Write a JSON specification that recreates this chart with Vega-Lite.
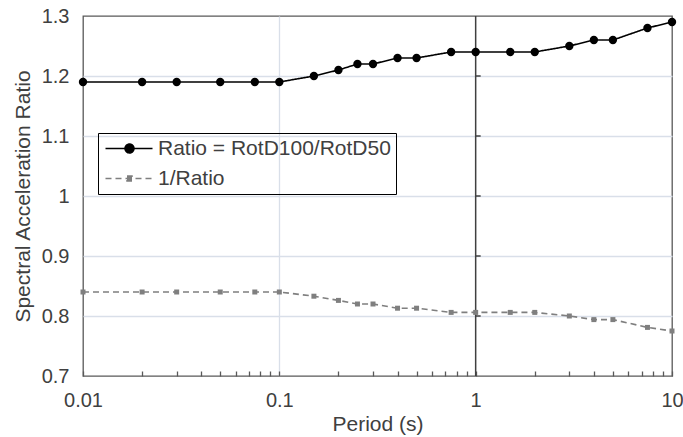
{
  "$schema": "https://vega.github.io/schema/vega-lite/v6.json",
  "width": 589,
  "height": 360,
  "autosize": {"type": "none"},
  "padding": {"left": 83, "top": 16, "right": 11, "bottom": 61},
  "background": "white",
  "config": {
    "font": "Liberation Sans",
    "view": {"stroke": "#595959", "strokeWidth": 1.3},
    "axis": {"labelFont": "Liberation Sans", "titleFont": "Liberation Sans", "labelColor": "#404040", "titleColor": "#404040", "labelFontSize": 20, "titleFontSize": 21, "titleFontWeight": "normal"}
  },
  "datasets": {
    "main": [
      {"Period": 0.01, "Ratio": 1.19, "Series": "Ratio = RotD100/RotD50"},
      {"Period": 0.02, "Ratio": 1.19, "Series": "Ratio = RotD100/RotD50"},
      {"Period": 0.03, "Ratio": 1.19, "Series": "Ratio = RotD100/RotD50"},
      {"Period": 0.05, "Ratio": 1.19, "Series": "Ratio = RotD100/RotD50"},
      {"Period": 0.075, "Ratio": 1.19, "Series": "Ratio = RotD100/RotD50"},
      {"Period": 0.1, "Ratio": 1.19, "Series": "Ratio = RotD100/RotD50"},
      {"Period": 0.15, "Ratio": 1.2, "Series": "Ratio = RotD100/RotD50"},
      {"Period": 0.2, "Ratio": 1.21, "Series": "Ratio = RotD100/RotD50"},
      {"Period": 0.25, "Ratio": 1.22, "Series": "Ratio = RotD100/RotD50"},
      {"Period": 0.3, "Ratio": 1.22, "Series": "Ratio = RotD100/RotD50"},
      {"Period": 0.4, "Ratio": 1.23, "Series": "Ratio = RotD100/RotD50"},
      {"Period": 0.5, "Ratio": 1.23, "Series": "Ratio = RotD100/RotD50"},
      {"Period": 0.75, "Ratio": 1.24, "Series": "Ratio = RotD100/RotD50"},
      {"Period": 1, "Ratio": 1.24, "Series": "Ratio = RotD100/RotD50"},
      {"Period": 1.5, "Ratio": 1.24, "Series": "Ratio = RotD100/RotD50"},
      {"Period": 2, "Ratio": 1.24, "Series": "Ratio = RotD100/RotD50"},
      {"Period": 3, "Ratio": 1.25, "Series": "Ratio = RotD100/RotD50"},
      {"Period": 4, "Ratio": 1.26, "Series": "Ratio = RotD100/RotD50"},
      {"Period": 5, "Ratio": 1.26, "Series": "Ratio = RotD100/RotD50"},
      {"Period": 7.5, "Ratio": 1.28, "Series": "Ratio = RotD100/RotD50"},
      {"Period": 10, "Ratio": 1.29, "Series": "Ratio = RotD100/RotD50"},
      {"Period": 0.01, "Ratio": 0.84, "Series": "1/Ratio"},
      {"Period": 0.02, "Ratio": 0.84, "Series": "1/Ratio"},
      {"Period": 0.03, "Ratio": 0.84, "Series": "1/Ratio"},
      {"Period": 0.05, "Ratio": 0.84, "Series": "1/Ratio"},
      {"Period": 0.075, "Ratio": 0.84, "Series": "1/Ratio"},
      {"Period": 0.1, "Ratio": 0.84, "Series": "1/Ratio"},
      {"Period": 0.15, "Ratio": 0.833, "Series": "1/Ratio"},
      {"Period": 0.2, "Ratio": 0.826, "Series": "1/Ratio"},
      {"Period": 0.25, "Ratio": 0.82, "Series": "1/Ratio"},
      {"Period": 0.3, "Ratio": 0.82, "Series": "1/Ratio"},
      {"Period": 0.4, "Ratio": 0.813, "Series": "1/Ratio"},
      {"Period": 0.5, "Ratio": 0.813, "Series": "1/Ratio"},
      {"Period": 0.75, "Ratio": 0.806, "Series": "1/Ratio"},
      {"Period": 1, "Ratio": 0.806, "Series": "1/Ratio"},
      {"Period": 1.5, "Ratio": 0.806, "Series": "1/Ratio"},
      {"Period": 2, "Ratio": 0.806, "Series": "1/Ratio"},
      {"Period": 3, "Ratio": 0.8, "Series": "1/Ratio"},
      {"Period": 4, "Ratio": 0.794, "Series": "1/Ratio"},
      {"Period": 5, "Ratio": 0.794, "Series": "1/Ratio"},
      {"Period": 7.5, "Ratio": 0.781, "Series": "1/Ratio"},
      {"Period": 10, "Ratio": 0.775, "Series": "1/Ratio"}
    ],
    "crossAxis": [{"Period": 1}],
    "crossTicks": [
      {"Period": 1, "Ratio": 0.8},
      {"Period": 1, "Ratio": 0.9},
      {"Period": 1, "Ratio": 1.0},
      {"Period": 1, "Ratio": 1.1},
      {"Period": 1, "Ratio": 1.2}
    ]
  },
  "layer": [
    {
      "data": {"name": "crossAxis"},
      "mark": {"type": "rule", "color": "#404040", "strokeWidth": 1.5},
      "encoding": {
        "x": {
          "field": "Period", "type": "quantitative",
          "scale": {"type": "log", "domain": [0.01, 10], "nice": false},
          "axis": {
            "title": "Period (s)",
            "titlePadding": 3,
            "values": [0.01,0.02,0.03,0.04,0.05,0.06,0.07,0.08,0.09,0.1,0.2,0.3,0.4,0.5,0.6,0.7,0.8,0.9,1,2,3,4,5,6,7,8,9,10],
            "labelExpr": "datum.value == 0.01 || datum.value == 0.1 || datum.value == 1 || datum.value == 10 ? format(datum.value, '~g') : ''",
            "labelOverlap": false,
            "labelFlush": false,
            "labelPadding": 19,
            "tickSize": -5,
            "tickColor": "#595959",
            "tickWidth": 1.3,
            "domain": false,
            "grid": true,
            "gridColor": "#d9dfe9",
            "gridWidth": 1.3,
            "gridOpacity": {"condition": {"test": "datum.value == 0.1", "value": 1}, "value": 0}
          }
        }
      }
    },
    {
      "data": {"name": "crossTicks"},
      "mark": {"type": "point", "shape": "M0,0H1", "size": 100, "filled": false, "stroke": "#404040", "strokeWidth": 1.5, "opacity": 1},
      "encoding": {
        "x": {"field": "Period", "type": "quantitative"},
        "y": {
          "field": "Ratio", "type": "quantitative",
          "scale": {"domain": [0.7, 1.3], "nice": false, "zero": false},
          "axis": {
            "title": "Spectral Acceleration Ratio",
            "titlePadding": 8,
            "values": [0.7,0.8,0.9,1.0,1.1,1.2,1.3],
            "format": ".1~f",
            "ticks": false,
            "domain": false,
            "labelPadding": 14,
            "grid": true,
            "gridColor": "#d9dfe9",
            "gridWidth": 1.3,
            "gridOpacity": {"condition": {"test": "datum.value <= 0.7 || datum.value >= 1.3", "value": 0}, "value": 1}
          }
        }
      }
    },
    {
      "data": {"name": "main"},
      "mark": {"type": "line", "strokeWidth": 1.6},
      "encoding": {
        "x": {"field": "Period", "type": "quantitative"},
        "y": {"field": "Ratio", "type": "quantitative"},
        "color": {
          "field": "Series", "type": "nominal",
          "scale": {"domain": ["Ratio = RotD100/RotD50", "1/Ratio"], "range": ["#000000", "#7f7f7f"]},
          "legend": {
            "title": null,
            "orient": "none",
            "legendX": 15,
            "legendY": 117,
            "padding": 5,
            "strokeColor": "#000000",
            "labelFont": "Liberation Sans",
            "labelFontSize": 21,
            "labelColor": "#404040",
            "labelLimit": 400,
            "labelOffset": 34,
            "symbolSize": 100,
            "symbolStrokeWidth": 1.5,
            "rowPadding": 8,
            "encode": {
              "symbols": {
                "update": {
                  "shape": {"signal": "datum.value === '1/Ratio' ? 'M-1.6,0H7.8M2.7,-0.5H3.7V0.5H2.7Z' : 'M-1.6,0H7.8M4.1,0A0.9,0.9 0 1,1 2.3,0A0.9,0.9 0 1,1 4.1,0'"},
                  "fill": {"signal": "datum.value === '1/Ratio' ? '#7f7f7f' : '#000000'"},
                  "strokeDash": {"signal": "datum.value === '1/Ratio' ? [5, 4] : [1, 0]"},
                  "size": {"value": 100},
                  "strokeWidth": {"value": 1.5},
                  "opacity": {"value": 1}
                }
              }
            }
          }
        },
        "strokeDash": {
          "field": "Series", "type": "nominal",
          "scale": {"domain": ["Ratio = RotD100/RotD50", "1/Ratio"], "range": [[1, 0], [6, 4]]},
          "legend": null
        }
      }
    },
    {
      "data": {"name": "main"},
      "transform": [{"filter": "datum.Series === 'Ratio = RotD100/RotD50'"}],
      "mark": {"type": "point", "filled": true, "opacity": 1, "shape": "circle", "size": 70, "color": "#000000"},
      "encoding": {
        "x": {"field": "Period", "type": "quantitative"},
        "y": {"field": "Ratio", "type": "quantitative"}
      }
    },
    {
      "data": {"name": "main"},
      "transform": [{"filter": "datum.Series === '1/Ratio'"}],
      "mark": {"type": "point", "filled": true, "opacity": 1, "shape": "square", "size": 25, "color": "#7f7f7f"},
      "encoding": {
        "x": {"field": "Period", "type": "quantitative"},
        "y": {"field": "Ratio", "type": "quantitative"}
      }
    }
  ]
}
